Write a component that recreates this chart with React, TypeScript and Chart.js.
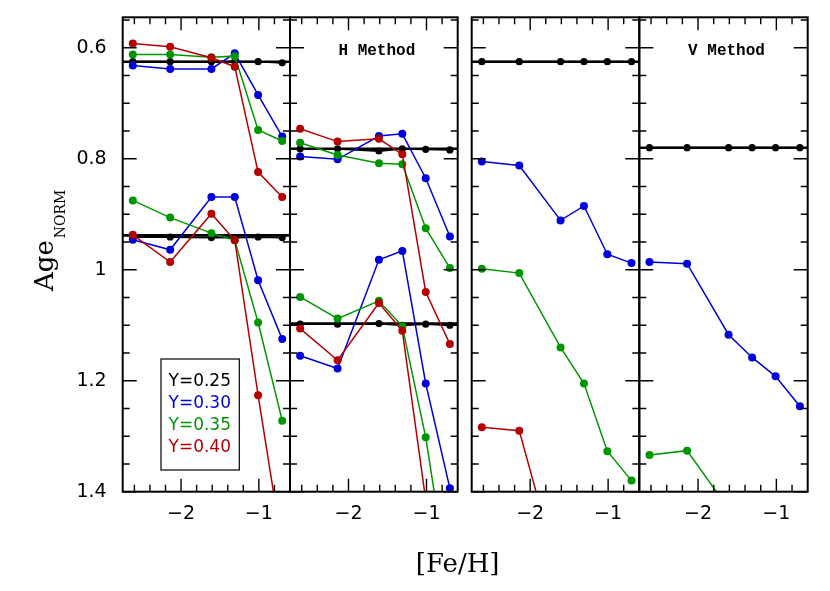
import React, { useEffect, useRef } from "react";
import { Chart, registerables } from "chart.js";

Chart.register(...registerables);

// ---------------- data ----------------
const FEH = [-2.62, -2.14, -1.61, -1.31, -1.01, -0.7];

const X_MIN = -2.75;
const X_MAX = -0.6;
const Y_MIN = 0.545;
const Y_MAX = 1.4;

const X_TICK_LABELS = [-2, -1];
const X_MINOR_TICKS = [-2.6, -2.4, -2.2, -1.8, -1.6, -1.4, -1.2, -0.8];
const Y_TICK_LABELS = [0.6, 0.8, 1, 1.2, 1.4];
const Y_MINOR_TICKS = [0.55, 0.65, 0.7, 0.75, 0.85, 0.9, 0.95, 1.05, 1.1, 1.15, 1.25, 1.3, 1.35];

const LEGEND_LABELS = ["Y=0.25", "Y=0.30", "Y=0.35", "Y=0.40"];
const PANEL_TITLES = ["", "H Method", "", "V Method"];
const X_TITLE = "[Fe/H]";
const Y_TITLE_MAIN = "Age";
const Y_TITLE_SUB = "NORM";

// Panel 1
const P1_REF = [0.625, 0.938];
const P1_UP_Y025 = [0.625, 0.625, 0.625, 0.625, 0.625, 0.627];
const P1_UP_Y030 = [0.632, 0.638, 0.638, 0.61, 0.685, 0.76];
const P1_UP_Y035 = [0.612, 0.612, 0.617, 0.615, 0.748, 0.768];
const P1_UP_Y040 = [0.592, 0.598, 0.618, 0.634, 0.824, 0.869];
const P1_LO_Y025 = [0.941, 0.941, 0.942, 0.942, 0.941, 0.942];
const P1_LO_Y030 = [0.946, 0.964, 0.869, 0.869, 1.019, 1.125];
const P1_LO_Y035 = [0.875, 0.906, 0.934, 0.947, 1.095, 1.272];
const P1_LO_Y040 = [0.937, 0.986, 0.899, 0.947, 1.226, 1.5];

// Panel 2 (H Method)
const P2_REF = [0.782, 1.097];
const P2_UP_Y025 = [0.782, 0.782, 0.786, 0.782, 0.783, 0.784];
const P2_UP_Y030 = [0.796, 0.801, 0.759, 0.755, 0.835, 0.94];
const P2_UP_Y035 = [0.771, 0.793, 0.808, 0.81, 0.925, 0.997];
const P2_UP_Y040 = [0.746, 0.769, 0.764, 0.792, 1.04, 1.134];
const P2_LO_Y025 = [1.098, 1.098, 1.097, 1.1, 1.098, 1.1];
const P2_LO_Y030 = [1.155, 1.178, 0.982, 0.966, 1.205, 1.394];
const P2_LO_Y035 = [1.049, 1.088, 1.056, 1.102, 1.302, 1.581];
const P2_LO_Y040 = [1.106, 1.163, 1.06, 1.11, 1.415, 1.65];

// Panel 3
const P3_REF = [0.625];
const P3_Y025 = [0.625, 0.625, 0.625, 0.625, 0.625, 0.625];
const P3_Y030 = [0.805, 0.812, 0.911, 0.885, 0.972, 0.988];
const P3_Y035 = [0.998, 1.006, 1.14, 1.205, 1.327, 1.38];
const P3_Y040 = [1.284, 1.29, 1.56, null, null, null];

// Panel 4 (V Method)
const P4_REF = [0.78];
const P4_Y025 = [0.78, 0.78, 0.78, 0.78, 0.78, 0.78];
const P4_Y030 = [0.986, 0.989, 1.117, 1.158, 1.192, 1.246];
const P4_Y035 = [1.334, 1.326, 1.431, null, null, null];

// ---------------- styles / layout ----------------
const W = 830;
const H = 591;
const COLORS = ["#000000", "#0000dc", "#009600", "#b40000"];
const PLOT_TOP = 17.3;
const PLOT_BOTTOM = 491.7;
const PANEL_X = [
  [122.7, 290],
  [290, 457.7],
  [471.7, 639.3],
  [639.3, 807.7],
];
const Y_AXIS_W = 100;
const X_AXIS_H = 60;

type Series = (number | null)[] | null;

const PANELS: { refs: number[]; groups: Series[][] }[] = [
  {
    refs: P1_REF,
    groups: [
      [P1_UP_Y025, P1_UP_Y030, P1_UP_Y035, P1_UP_Y040],
      [P1_LO_Y025, P1_LO_Y030, P1_LO_Y035, P1_LO_Y040],
    ],
  },
  {
    refs: P2_REF,
    groups: [
      [P2_UP_Y025, P2_UP_Y030, P2_UP_Y035, P2_UP_Y040],
      [P2_LO_Y025, P2_LO_Y030, P2_LO_Y035, P2_LO_Y040],
    ],
  },
  { refs: P3_REF, groups: [[P3_Y025, P3_Y030, P3_Y035, P3_Y040]] },
  { refs: P4_REF, groups: [[P4_Y025, P4_Y030, P4_Y035, null]] },
];

const TICK_FONT = { family: "'DejaVu Sans', sans-serif", size: 19 };

function makePlugin(index: number, refs: number[]) {
  return {
    id: "panelDecor" + index,
    beforeDatasetsDraw(chart: any) {
      const { ctx, chartArea } = chart;
      const y = chart.scales.y;
      ctx.save();
      ctx.strokeStyle = "#000";
      ctx.lineWidth = 2.6;
      refs.forEach((r) => {
        const py = y.getPixelForValue(r);
        ctx.beginPath();
        ctx.moveTo(chartArea.left, py);
        ctx.lineTo(chartArea.right, py);
        ctx.stroke();
      });
      ctx.restore();
    },
    afterDraw(chart: any) {
      const { ctx, chartArea } = chart;
      const { left, right, top, bottom } = chartArea;
      const x = chart.scales.x;
      const y = chart.scales.y;
      ctx.save();
      ctx.strokeStyle = "#000";
      // ticks
      ctx.lineWidth = 1.4;
      const xt = (v: number, len: number) => {
        const px = x.getPixelForValue(v);
        ctx.beginPath();
        ctx.moveTo(px, bottom);
        ctx.lineTo(px, bottom - len);
        ctx.moveTo(px, top);
        ctx.lineTo(px, top + len);
        ctx.stroke();
      };
      const yt = (v: number, len: number) => {
        const py = y.getPixelForValue(v);
        ctx.beginPath();
        ctx.moveTo(left, py);
        ctx.lineTo(left + len, py);
        ctx.moveTo(right, py);
        ctx.lineTo(right - len, py);
        ctx.stroke();
      };
      X_MINOR_TICKS.forEach((v) => xt(v, 7));
      X_TICK_LABELS.forEach((v) => xt(v, 13));
      Y_MINOR_TICKS.forEach((v) => yt(v, 7));
      Y_TICK_LABELS.forEach((v) => yt(v, 14));
      // frame
      ctx.lineWidth = 2;
      ctx.strokeRect(left, top, right - left, bottom - top);

      // panel title
      const title = PANEL_TITLES[index];
      if (title) {
        ctx.fillStyle = "#000";
        ctx.font = "bold 16px 'Liberation Mono', monospace";
        ctx.textAlign = "center";
        ctx.textBaseline = "middle";
        ctx.fillText(title, (left + right) / 2 + 3, 51);
      }

      if (index === 0) {
        // legend box
        ctx.lineWidth = 1.2;
        ctx.strokeRect(161, 359, 78.3, 111);
        ctx.font = "17px 'DejaVu Sans', sans-serif";
        ctx.textAlign = "left";
        ctx.textBaseline = "middle";
        LEGEND_LABELS.forEach((lab, i) => {
          ctx.fillStyle = COLORS[i];
          ctx.fillText(lab, 168.5, 381.7 + i * 21.9);
        });
        // x title
        ctx.fillStyle = "#000";
        ctx.font = "26px 'DejaVu Serif', serif";
        ctx.textAlign = "center";
        ctx.textBaseline = "middle";
        ctx.fillText(X_TITLE, 457.6, 565);
        // y title
        ctx.save();
        ctx.translate(53.3, 291);
        ctx.rotate(-Math.PI / 2);
        ctx.textAlign = "left";
        ctx.textBaseline = "alphabetic";
        ctx.font = "26px 'DejaVu Serif', serif";
        ctx.fillText(Y_TITLE_MAIN, 0, 0);
        const w = ctx.measureText(Y_TITLE_MAIN).width;
        ctx.font = "14px 'DejaVu Serif', serif";
        ctx.fillText(Y_TITLE_SUB, w + 2, 11.5);
        ctx.restore();
      }
      ctx.restore();
    },
  };
}

function buildChart(canvas: HTMLCanvasElement, index: number) {
  const panel = PANELS[index];
  const [pl, pr] = PANEL_X[index];
  const showY = index === 0;
  const datasets: any[] = [];
  panel.groups.forEach((group) => {
    group.forEach((vals, s) => {
      if (!vals) return;
      datasets.push({
        label: LEGEND_LABELS[s],
        data: FEH.map((fx, i) => ({ x: fx, y: vals[i] })),
        borderColor: COLORS[s],
        backgroundColor: COLORS[s],
        borderWidth: s === 0 ? 1.8 : 1.5,
        pointRadius: s === 0 ? 3.6 : 4,
        pointBorderWidth: 0,
        pointHoverRadius: 4,
        order: 3 - s,
        spanGaps: false,
        clip: 1,
        tension: 0,
      });
    });
  });

  return new Chart(canvas, {
    type: "line",
    data: { datasets },
    options: {
      responsive: false,
      animation: false,
      devicePixelRatio: 1,
      events: [],
      layout: {
        padding: {
          left: showY ? pl - Y_AXIS_W : pl,
          right: W - pr,
          top: PLOT_TOP,
          bottom: H - PLOT_BOTTOM - X_AXIS_H,
        },
      },
      plugins: {
        legend: { display: false },
        tooltip: { enabled: false },
        title: { display: false },
      },
      scales: {
        x: {
          type: "linear",
          min: X_MIN,
          max: X_MAX,
          afterBuildTicks: (s: any) => {
            s.ticks = X_TICK_LABELS.map((v) => ({ value: v }));
          },
          afterFit: (s: any) => {
            s.height = X_AXIS_H;
          },
          grid: {
            display: true,
            drawOnChartArea: false,
            drawTicks: true,
            tickLength: 11,
            color: "rgba(0,0,0,0)",
            tickColor: "rgba(0,0,0,0)",
          },
          border: { display: false },
          ticks: {
            padding: 0,
            color: "#000",
            font: TICK_FONT,
            maxRotation: 0,
            autoSkip: false,
            callback: (v: any) => String(v).replace("-", "\u2212"),
          },
        },
        y: {
          type: "linear",
          reverse: true,
          min: Y_MIN,
          max: Y_MAX,
          display: showY,
          afterBuildTicks: (s: any) => {
            s.ticks = Y_TICK_LABELS.map((v) => ({ value: v }));
          },
          afterFit: (s: any) => {
            s.width = showY ? Y_AXIS_W : 0;
          },
          grid: {
            display: true,
            drawOnChartArea: false,
            drawTicks: true,
            tickLength: 16,
            color: "rgba(0,0,0,0)",
            tickColor: "rgba(0,0,0,0)",
          },
          border: { display: false },
          ticks: {
            padding: 0,
            color: "#000",
            font: TICK_FONT,
            autoSkip: false,
            callback: (v: any) => (v === 1 ? "1" : Number(v).toFixed(1)),
          },
        },
      },
    },
    plugins: [makePlugin(index, panel.refs)],
  } as any);
}

export default function App() {
  const refs = [
    useRef<HTMLCanvasElement>(null),
    useRef<HTMLCanvasElement>(null),
    useRef<HTMLCanvasElement>(null),
    useRef<HTMLCanvasElement>(null),
  ];
  useEffect(() => {
    const charts = refs.map((r, i) => buildChart(r.current as HTMLCanvasElement, i));
    return () => charts.forEach((c) => c.destroy());
  }, []);
  return (
    <div
      style={{
        position: "absolute",
        left: 0,
        top: 0,
        width: W,
        height: H,
        background: "#fff",
      }}
    >
      {refs.map((r, i) => (
        <canvas
          key={i}
          ref={r}
          width={W}
          height={H}
          style={{ position: "absolute", left: 0, top: 0, width: W, height: H }}
        />
      ))}
    </div>
  );
}
